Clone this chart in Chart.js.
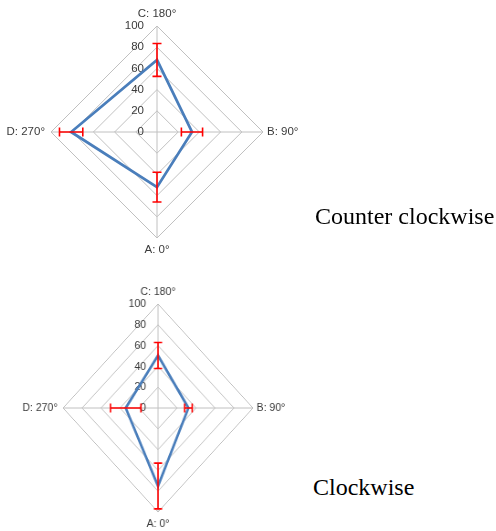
<!DOCTYPE html>
<html>
<head>
<meta charset="utf-8">
<script src="https://cdn.jsdelivr.net/npm/chart.js@4.4.0/dist/chart.umd.min.js"></script>
<style>
  html, body { margin: 0; padding: 0; background: #ffffff; }
  body { width: 496px; height: 531px; position: relative; overflow: hidden; }
  #c1 { position: absolute; left: 0; top: 0; }
  #c2 { position: absolute; left: 0; top: 270px; transform: scaleX(0.913); transform-origin: 158px 0; }
  .cap { position: absolute; font-family: "Liberation Serif", "Times New Roman", serif; font-size: 24px; color: #000; white-space: nowrap; line-height: 1; }
</style>
</head>
<body>
<canvas id="c1" width="320" height="265"></canvas>
<canvas id="c2" width="320" height="261"></canvas>
<div class="cap" id="t1" style="left:315px; top:204px;">Counter clockwise</div>
<div class="cap" id="t2" style="left:313px; top:475px;">Clockwise</div>
<script>
// ---- data ----
const axisLabels = ['C: 180°', 'B: 90°', 'A: 0°', 'D: 270°'];
const tickValues = [0, 20, 40, 60, 80, 100];
const tickLabels = ['0', '20', '40', '60', '80', '100'];
const ccwValues = [68, 33, 52, 81];
const ccwErrors = [15.5, 10, 14, 11];
const cwValues = [50.5, 32, 75, 34];
const cwErrors = [12.5, 4, 22, 16];

const LABEL_FONT = '11.5px "Liberation Sans", Arial, sans-serif';
const TEXT_COLOR = '#3a3a3a';

const overlay = {
  id: 'overlay',
  beforeDatasetsDraw(chart) {
    const s = chart.scales.r;
    const ctx = chart.ctx;
    ctx.save();
    ctx.font = LABEL_FONT;
    ctx.fillStyle = TEXT_COLOR;
    // tick labels, right-aligned left of the vertical axis
    ctx.textAlign = 'right';
    ctx.textBaseline = 'middle';
    tickValues.forEach((v, k) => {
      const y = s.yCenter - s.getDistanceFromCenterForValue(v);
      ctx.fillText(tickLabels[k], s.xCenter - 13, y);
    });
    // point labels
    const offs = [12, 4, 12, 6];
    const aligns = ['center', 'left', 'center', 'right'];
    axisLabels.forEach((lab, i) => {
      const p = s.getPointPosition(i, s.drawingArea + offs[i]);
      ctx.textAlign = aligns[i];
      ctx.textBaseline = 'middle';
      ctx.fillText(lab, p.x, p.y);
    });
    ctx.restore();
  },
  afterDatasetsDraw(chart) {
    const s = chart.scales.r;
    const ctx = chart.ctx;
    const ds = chart.data.datasets[0];
    const errs = ds.errors;
    ctx.save();
    ctx.strokeStyle = '#ff0000';
    ctx.lineWidth = 1.6;
    ds.data.forEach((v, i) => {
      const a = s.getPointPositionForValue(i, v - errs[i]);
      const b = s.getPointPositionForValue(i, v + errs[i]);
      const dx = b.x - a.x, dy = b.y - a.y;
      const len = Math.hypot(dx, dy) || 1;
      const px = -dy / len * 4.5, py = dx / len * 4.5;
      ctx.beginPath();
      ctx.moveTo(a.x, a.y); ctx.lineTo(b.x, b.y);
      ctx.moveTo(a.x - px, a.y - py); ctx.lineTo(a.x + px, a.y + py);
      ctx.moveTo(b.x - px, b.y - py); ctx.lineTo(b.x + px, b.y + py);
      ctx.stroke();
    });
    ctx.restore();
  }
};

function makeChart(id, values, errors, padding) {
  return new Chart(document.getElementById(id), {
    type: 'radar',
    data: {
      labels: axisLabels,
      datasets: [{
        data: values,
        errors: errors,
        borderColor: '#4a7ebb',
        borderWidth: 2.75,
        fill: false,
        pointRadius: 0,
        pointHoverRadius: 0,
        tension: 0
      }]
    },
    options: {
      responsive: false,
      animation: false,
      devicePixelRatio: 1,
      layout: { padding: padding },
      plugins: { legend: { display: false }, tooltip: { enabled: false } },
      scales: {
        r: {
          min: 0,
          max: 100,
          startAngle: 0,
          ticks: { stepSize: 20, display: false },
          grid: { color: '#c0c0c0', lineWidth: 1 },
          angleLines: { color: '#c0c0c0', lineWidth: 1 },
          pointLabels: { display: false }
        }
      }
    },
    plugins: [overlay]
  });
}

makeChart('c1', ccwValues, ccwErrors, { left: 51, right: 57, top: 26, bottom: 27 });
makeChart('c2', cwValues, cwErrors, { left: 54, right: 58, top: 34, bottom: 19 });
</script>
</body>
</html>
